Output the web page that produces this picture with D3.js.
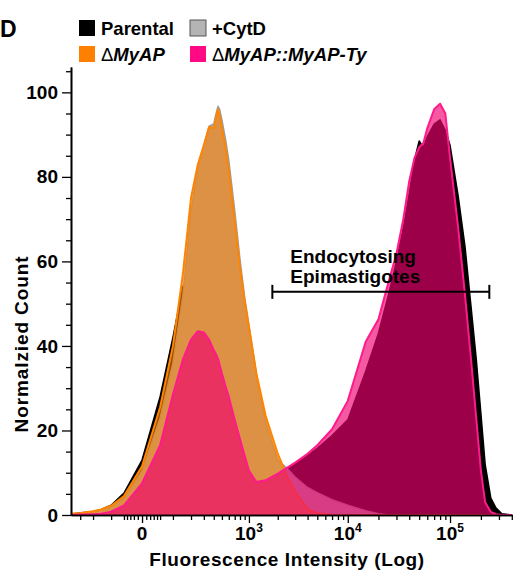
<!DOCTYPE html>
<html>
<head>
<meta charset="utf-8">
<script src="https://cdn.jsdelivr.net/npm/d3@7"></script>
<style>
  body { margin: 0; background: #fff; }
  svg { display: block; font-family: "Liberation Sans", Arial, sans-serif; font-weight: bold; }
</style>
</head>
<body>
<div id="chart"></div>
<script>
// Histogram bins (fluorescence intensity) and normalized counts
const intensity = [-400, -300, -200, -150, -100, -50, 0, 50, 100, 150, 200, 250, 300, 350, 400, 420, 450, 470, 500,
  550, 600, 700, 800, 900, 1000, 1200, 1500, 2000, 2500, 3000, 4000, 5000, 7000, 10000,
  15000, 20000, 25000, 30000, 35000, 40000, 45000, 50000, 55000, 60000, 70000, 80000, 90000, 100000,
  120000, 140000, 160000, 180000, 200000, 220000, 250000, 280000, 320000, 400000];

const parental = [0.2, 0.5, 0.8, 1.3, 2.3, 5.2, 13, 28, 42, 54, 57, 59, 57, 54, 51, 49.5, 47, 45.5, 43.5,
  40, 37, 32, 27, 23, 20, 15, 11.5, 10, 11, 12, 14, 15.8, 18.8, 22.5,
  34, 43, 52, 60, 68, 76, 84, 88.5, 87, 89.5, 92.5, 93.5, 91, 87.5,
  75.5, 63.5, 49.5, 37, 24, 12, 4, 1.7, 0.3, 0];

const cytD = [0.2, 0.4, 0.8, 1.2, 2.0, 4.0, 10.5, 23, 36, 52, 72, 82, 87.5, 92, 92.5, 94.5, 96.7, 96, 93.5,
  89, 84, 72, 60.5, 51.5, 45, 33.5, 22, 13, 11, 9, 6.5, 5.3, 3.6, 2.3,
  1.0, 0.3, 0, 0, 0, 0, 0, 0, 0, 0, 0, 0, 0, 0,
  0, 0, 0, 0, 0, 0, 0, 0, 0, 0];

const myap = [0.3, 0.5, 0.9, 1.3, 2.2, 4.5, 11.5, 25.5, 40, 57, 75, 83, 87.5, 91.8, 91.5, 93.5, 96, 94.5, 91.5,
  87, 81.5, 69.5, 58.5, 50.5, 44.5, 33.5, 23.5, 14.5, 9, 5.5, 1.5, 0.4, 0, 0,
  0, 0, 0, 0, 0, 0, 0, 0, 0, 0, 0, 0, 0, 0,
  0, 0, 0, 0, 0, 0, 0, 0, 0, 0];

const rescue = [0, 0.1, 0.2, 0.3, 0.8, 2.3, 7.5, 16.5, 28.5, 36.8, 41.5, 43.5, 43.2, 41.5, 39, 38.3, 37, 35.5, 33.5,
  30.5, 28, 22.5, 18, 14, 10.5, 7.8, 8.2, 9.8, 11.2, 12.4, 14.5, 16.5, 20.3, 27,
  41, 46.3, 55, 61.8, 70, 79, 84.5, 87, 88, 91.5, 96, 97.3, 95, 84.5,
  68, 52, 37, 23, 10.5, 3, 0.7, 0.2, 0, 0];

const yTicks = [0, 20, 40, 60, 80, 100];
const xTickLabels = [
  { value: 0, base: "0", exp: "" },
  { value: 1000, base: "10", exp: "3" },
  { value: 10000, base: "10", exp: "4" },
  { value: 100000, base: "10", exp: "5" },
];

// Gate "Endocytosing Epimastigotes"
const gateRange = [1760, 241600];
const gateLevel = 52.8;
const gateText = ["Endocytosing", "Epimastigotes"];

function draw() {
  const dimensions = {
    width: 513,
    height: 572,
    margin: { top: 67, bottom: 57, left: 71, right: 0 },
  };
  const containerWidth = dimensions.width - dimensions.margin.left - dimensions.margin.right;
  const containerHeight = dimensions.height - dimensions.margin.top - dimensions.margin.bottom;

  const svg = d3
    .select("#chart")
    .append("svg")
    .attr("width", dimensions.width)
    .attr("height", dimensions.height);

  const ctr = svg
    .append("g")
    .attr("transform", `translate(${dimensions.margin.left}, ${dimensions.margin.top})`);

  // biexponential-looking axis: symlog
  const xScale = d3
    .scaleSymlog()
    .constant(100)
    .domain([-392, 411000])
    .range([0, containerWidth]);
  const yScale = d3.scaleLinear().domain([0, 106]).range([containerHeight, 0]);

  ctr
    .append("clipPath")
    .attr("id", "plot-clip")
    .append("rect")
    .attr("width", containerWidth)
    .attr("height", containerHeight);

  const series = [
    { values: parental, fill: "#000000", stroke: "#000000", width: 1.5 },
    { values: cytD, fill: "#ababab", stroke: "#9c9c9c", width: 1.5 },
    { values: myap, fill: "rgba(255,128,0,0.6)", stroke: "#ff8400", width: 2 },
    { values: rescue, fill: "rgba(240,0,110,0.65)", stroke: "#ff1a8c", width: 2 },
  ];

  const area = d3
    .area()
    .x((d, i) => xScale(intensity[i]))
    .y0(yScale(0))
    .y1((d) => yScale(d));
  const line = d3
    .line()
    .x((d, i) => xScale(intensity[i]))
    .y((d) => yScale(d));

  const plot = ctr.append("g").attr("clip-path", "url(#plot-clip)");
  series.forEach((s) => {
    plot.append("path").attr("d", area(s.values)).attr("fill", s.fill);
    plot
      .append("path")
      .attr("d", line(s.values))
      .attr("fill", "none")
      .attr("stroke", s.stroke)
      .attr("stroke-width", s.width)
      .attr("stroke-linejoin", "round");
  });

  // Axes
  const minorX = [-300, -200, -100, -50, -40, -30, -20, -10, 10, 20, 30, 40, 50]
    .concat(d3.range(100, 1000, 100))
    .concat(d3.range(2000, 10000, 1000))
    .concat(d3.range(20000, 100000, 10000))
    .concat([200000, 300000, 400000]);

  const xMinorGroup = ctr
    .append("g")
    .attr("transform", `translate(0, ${containerHeight})`)
    .call(d3.axisBottom(xScale).tickValues(minorX).tickSize(5).tickFormat("").tickSizeOuter(0));
  const xMajorGroup = ctr
    .append("g")
    .attr("transform", `translate(0, ${containerHeight})`)
    .call(
      d3.axisBottom(xScale).tickValues(xTickLabels.map((d) => d.value)).tickSize(8).tickFormat("").tickSizeOuter(0)
    );
  [xMinorGroup, xMajorGroup].forEach((g) => {
    g.selectAll("line").attr("stroke", "#000").attr("stroke-width", 1.3);
    g.select(".domain").attr("stroke", "#000").attr("stroke-width", 1.6);
  });

  const xLabels = ctr
    .append("g")
    .selectAll("text")
    .data(xTickLabels)
    .join("text")
    .attr("x", (d) => xScale(d.value))
    .attr("y", containerHeight + 25)
    .attr("text-anchor", "middle")
    .attr("font-size", 19)
    .attr("fill", "#000");
  xLabels.append("tspan").text((d) => d.base);
  xLabels
    .append("tspan")
    .attr("font-size", 12)
    .attr("dy", -8)
    .text((d) => d.exp);

  const minorY = d3.range(5, 106, 5).filter((d) => d % 20 !== 0);
  const yMinorGroup = ctr
    .append("g")
    .call(d3.axisLeft(yScale).tickValues(minorY).tickSize(5).tickFormat("").tickSizeOuter(0));
  const yMajorGroup = ctr
    .append("g")
    .call(d3.axisLeft(yScale).tickValues(yTicks).tickSize(9).tickPadding(4).tickSizeOuter(0));
  [yMinorGroup, yMajorGroup].forEach((g) => {
    g.selectAll("line").attr("stroke", "#000").attr("stroke-width", 1.3);
    g.select(".domain").attr("stroke", "#000").attr("stroke-width", 1.6);
  });
  yMajorGroup
    .selectAll("text")
    .attr("font-size", 19)
    .attr("font-family", "Liberation Sans, Arial, sans-serif")
    .attr("font-weight", "bold")
    .attr("fill", "#000");

  // Axis titles
  svg
    .append("text")
    .attr("x", 287)
    .attr("y", 566)
    .attr("text-anchor", "middle")
    .attr("font-size", 19)
    .attr("letter-spacing", 0.6)
    .text("Fluorescence Intensity (Log)");

  svg
    .append("text")
    .attr("transform", "translate(28, 344) rotate(-90)")
    .attr("text-anchor", "middle")
    .attr("font-size", 19)
    .attr("letter-spacing", 0.9)
    .text("Normalzied Count");

  // Gate
  const gy = yScale(gateLevel);
  const gate = ctr.append("g").attr("stroke", "#000").attr("stroke-width", 2);
  gate
    .append("line")
    .attr("x1", xScale(gateRange[0]))
    .attr("x2", xScale(gateRange[1]))
    .attr("y1", gy)
    .attr("y2", gy);
  gateRange.forEach((v) => {
    gate
      .append("line")
      .attr("x1", xScale(v))
      .attr("x2", xScale(v))
      .attr("y1", gy - 7)
      .attr("y2", gy + 7);
  });
  ctr
    .append("g")
    .selectAll("text")
    .data(gateText)
    .join("text")
    .attr("x", xScale(gateRange[0]) + 18)
    .attr("y", (d, i) => gy - 29 + i * 20.5)
    .attr("font-size", 19)
    .text((d) => d);

  // Legend
  const legendItems = [
    { parts: [{ t: "Parental" }], color: "#000", x: 79, y: 20 },
    { parts: [{ t: "+CytD" }], color: "#b4b4b4", x: 190, y: 20, border: "#555" },
    { parts: [{ t: "\u0394", plain: true }, { t: "MyAP", italic: true }], color: "#ff8000", x: 79, y: 46 },
    {
      parts: [{ t: "\u0394", plain: true }, { t: "MyAP::MyAP-Ty", italic: true }],
      color: "#ff0a84",
      x: 190,
      y: 46,
    },
  ];
  const legend = svg.append("g");
  legendItems.forEach((item) => {
    legend
      .append("rect")
      .attr("x", item.x)
      .attr("y", item.y)
      .attr("width", 16)
      .attr("height", 16)
      .attr("fill", item.color)
      .attr("stroke", item.border || "none")
      .attr("stroke-width", 1);
    const t = legend
      .append("text")
      .attr("x", item.x + 22)
      .attr("y", item.y + 15)
      .attr("font-size", 18.5);
    item.parts.forEach((p) => {
      t.append("tspan")
        .attr("font-style", p.italic ? "italic" : "normal")
        .attr("font-weight", p.plain ? "normal" : "bold")
        .text(p.t);
    });
  });

  // Panel letter
  svg.append("text").attr("x", 0).attr("y", 37).attr("font-size", 23).text("D");
}

draw();
</script>
</body>
</html>
